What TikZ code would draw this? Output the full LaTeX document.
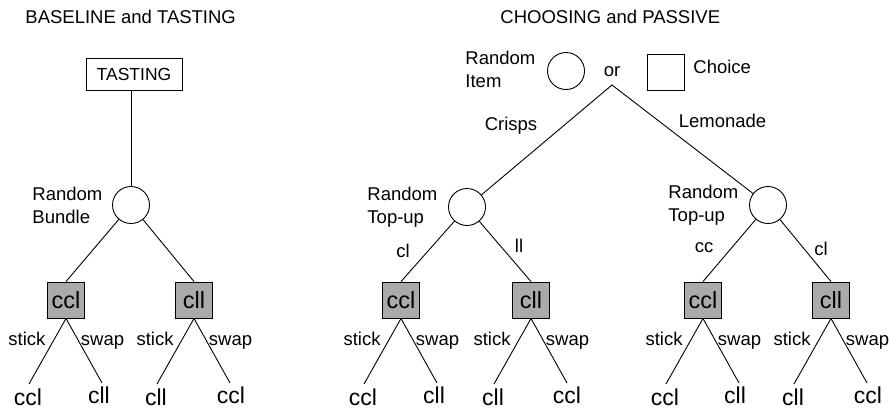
\documentclass[tikz,border=0pt]{standalone}
\usepackage{fontspec}
\setmainfont{Liberation Sans}
\definecolor{boxgray}{RGB}{170,170,170}
\newcommand\mkoutcome[6]{%
  \node[outcome] (#1) at (#2,300) {#3};
  \coordinate (#1l) at (#2-37,384);
  \coordinate (#1r) at (#2+36,383);
  \draw (#1.south) -- (#1l);
  \draw (#1.south) -- (#1r);
  \node[lbl,anchor=base] (#1st) at (#2-39,345.5) {stick};
  \node[lbl,anchor=base] (#1sw) at (#2+36.5,345.5) {swap};
  \node[leaf] (#1ll) at (#2-38,405) {#4};
  \node[leaf] (#1rl) at (#2+#6,403) {#5};
}
\begin{document}
\begin{tikzpicture}[x=1pt,y=-1pt, line width=0.9pt,
  lbl/.style={inner sep=0pt, font=\fontsize{18.5}{23}\selectfont},
  leaf/.style={inner sep=0pt, anchor=base, font=\fontsize{23}{27}\selectfont},
  chance/.style={draw, circle, minimum size=37pt, inner sep=0pt},
  choicebox/.style={draw, minimum width=37pt, minimum height=36pt, inner sep=0pt},
  outcome/.style={choicebox, fill=boxgray, font=\fontsize{23.5}{27}\selectfont},
]
\useasboundingbox (0,0) rectangle (894,410);

% ---------- left: BASELINE and TASTING ----------
\node[lbl, anchor=base west] (t1) at (25,23) {BASELINE and TASTING};
\node[draw, inner sep=0pt, minimum width=96pt, minimum height=32pt,
      font=\fontsize{17.5}{20}\selectfont] (tast) at (134,74) {TASTING};
\node[chance] (rb) at (131,205) {};
\draw (rb.north) -- (rb.north |- tast.south);
\node[lbl, anchor=north west, align=left] (rbl) at (32,186.5) {Random\\Bundle};

\mkoutcome{A}{66}{ccl}{ccl}{cll}{33}
\mkoutcome{B}{194}{cll}{cll}{ccl}{37}
\draw (rb) -- (A.north);
\draw (rb) -- (B.north);

% ---------- right: CHOOSING and PASSIVE ----------
\node[lbl, anchor=base west] (t2) at (500,23) {CHOOSING and PASSIVE};
\node[chance] (legc) at (566,71) {};
\node[lbl, anchor=north west, align=left] (legcl) at (465,50.5) {Random\\Item};
\node[lbl, anchor=base] (or) at (612,76) {or};
\node[choicebox] (legs) at (666,72) {};
\node[lbl, anchor=base west] (legsl) at (693,73) {Choice};

\coordinate (apex) at (612,85);
\node[chance] (tl) at (467,207) {};
\node[chance] (tr) at (768,205) {};
\draw (tl) -- (apex) -- (tr);
\node[lbl, anchor=base] (crisps) at (511,130) {Crisps};
\node[lbl, anchor=base] (lemon) at (722.5,127) {Lemonade};
\node[lbl, anchor=north west, align=left] (tll) at (367,186.5) {Random\\Top-up};
\node[lbl, anchor=north west, align=left] (trl) at (668,184.5) {Random\\Top-up};

\mkoutcome{C}{401}{ccl}{ccl}{cll}{33}
\mkoutcome{D}{531}{cll}{cll}{ccl}{36}
\mkoutcome{E}{703}{ccl}{ccl}{cll}{32}
\mkoutcome{F}{831}{cll}{cll}{ccl}{37}
\draw (tl) -- (C.north);
\draw (tl) -- (D.north);
\draw (tr) -- (E.north);
\draw (tr) -- (F.north);
\node[lbl, anchor=base] (lcl) at (403,257) {cl};
\node[lbl, anchor=base] (lll) at (519,252) {ll};
\node[lbl, anchor=base] (rcc) at (704,252) {cc};
\node[lbl, anchor=base] (rcl) at (821,255) {cl};
\end{tikzpicture}
\end{document}
